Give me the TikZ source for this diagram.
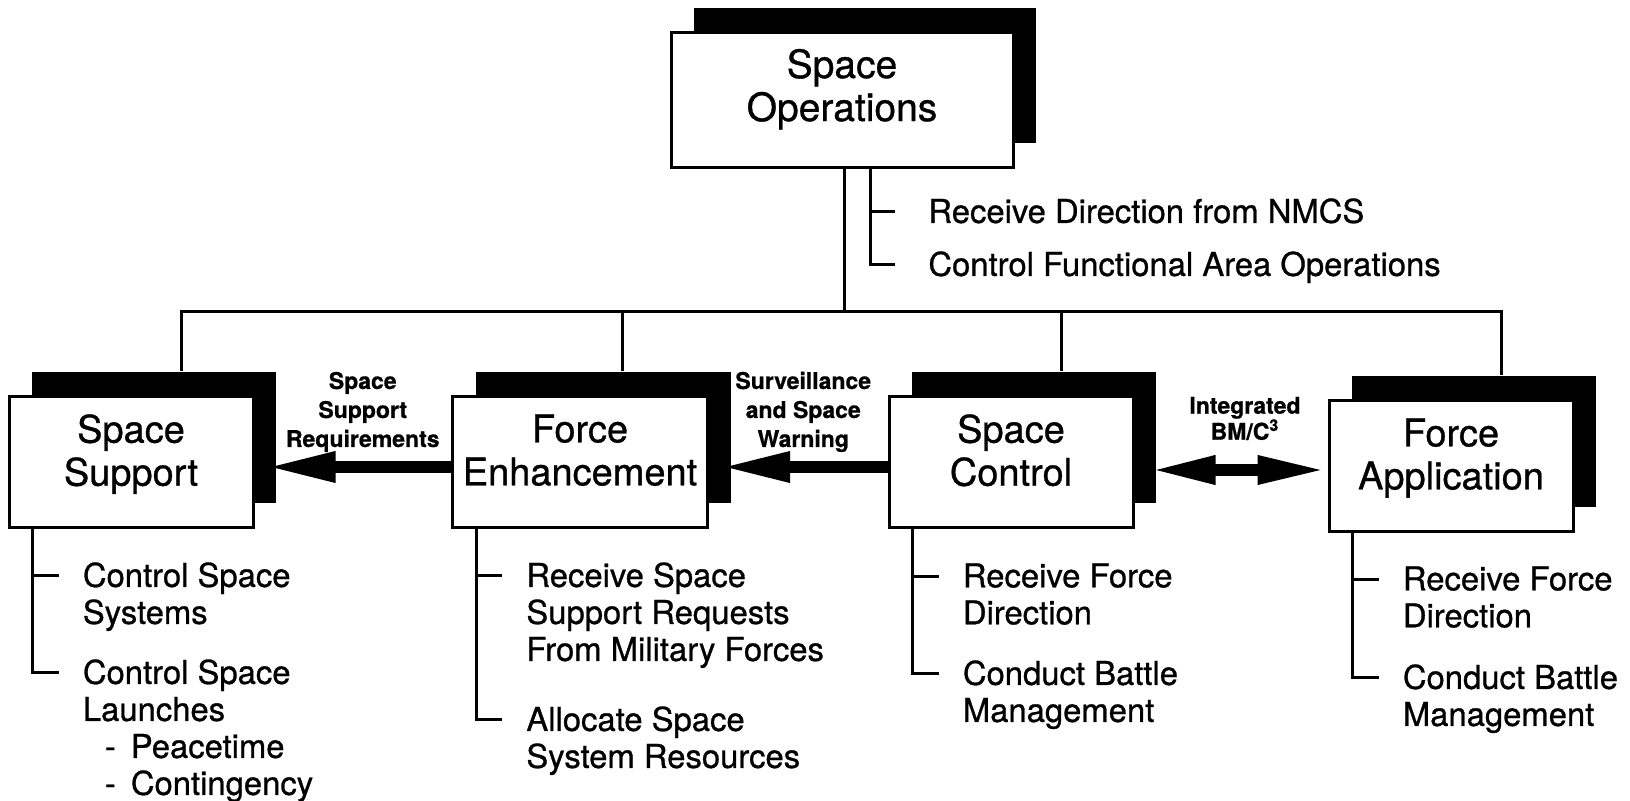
\documentclass[tikz,border=0pt]{standalone}
\usepackage{fontspec}
\setmainfont{TeX Gyre Heros}[FakeBold=0.8]
\usepackage{tikz}
\usetikzlibrary{arrows.meta,positioning,shadows}

\begin{document}
\begin{tikzpicture}[x=0.5pt,y=-0.5pt,node distance=220pt,
  line/.style={line width=1.5pt},
  box/.style={rectangle,draw,line width=1.5pt,fill=white,minimum width=122pt,minimum height=65.5pt,
    align=center,font=\fontsize{19}{21.5}\selectfont,
    execute at end node={\rule[-12pt]{0pt}{12pt}},
    drop shadow={shadow xshift=11.5pt,shadow yshift=12pt,fill=black,opacity=1}},
  top box/.style={box,minimum width=171pt,minimum height=67.5pt,font=\fontsize{19.5}{21.5}\selectfont,
    execute at end node={\rule[-15pt]{0pt}{15pt}}},
  item/.style={anchor=north west,align=left,inner sep=0pt,font=\fontsize{16.4}{18.5}\selectfont},
  flow/.style={line width=6pt,-{Triangle[length=35pt,width=14pt]},shorten >=5.5pt},
  flow label/.style={align=center,inner sep=0pt,font=\fontsize{11.5}{14.5}\selectfont\bfseries}]
  \useasboundingbox (0,0) rectangle (1630,801);

  \node[top box] (so) at (842,100) {Space\\Operations};
  \node[box] (ss) at (131,462) {Space\\Support};
  \node[box,minimum width=127.5pt] (fe) [right of=ss,xshift=4.5pt] {Force\\Enhancement};
  \node[box] (sc) [right of=fe,xshift=-4.5pt] {Space\\Control};
  \node[box] (fa) [right of=sc,yshift=-2pt] {Force\\Application};

  % bus to the four areas
  \coordinate (bus) at (844,312);
  \draw[line] (so.south -| bus) -- (bus);
  \foreach \n/\dx in {ss/25pt,fe/21pt,sc/25pt,fa/25pt}
    \draw[line] ([xshift=\dx,yshift=12pt]\n.north) |- (bus);

  % tasks
  \node[item] (so1) at (928,198) {Receive Direction from NMCS};
  \node[item] (so2) at (928,251) {Control Functional Area Operations};
  \draw[line] ([xshift=14pt]so.south) |- ([xshift=-16.5pt,yshift=-7pt]so2.north west);
  \draw[line] ([xshift=-16.5pt,yshift=-7pt]so1.north west) -- ++(-12.5pt,0);

  \node[item] (ss1) at ([xshift=37.5pt,yshift=-16.5pt]ss.south west) {Control Space\\Systems};
  \node[item] (ss2) at ([xshift=37.5pt,yshift=-65pt]ss.south west)
    {Control Space\\Launches\\\hspace*{11pt}\makebox[13pt][l]{-}Peacetime\\\hspace*{11pt}\makebox[13pt][l]{-}Contingency};
  \node[item] (fe1) at ([xshift=37.5pt,yshift=-16.5pt]fe.south west) {Receive Space\\Support Requests\\From Military Forces};
  \node[item] (fe2) at ([xshift=37.5pt,yshift=-88.5pt]fe.south west) {Allocate Space\\System Resources};
  \node[item] (sc1) at ([xshift=37.5pt,yshift=-17pt]sc.south west) {Receive Force\\Direction};
  \node[item] (sc2) at ([xshift=37.5pt,yshift=-65.5pt]sc.south west) {Conduct Battle\\Management};
  \node[item] (fa1) at ([xshift=37.5pt,yshift=-16.5pt]fa.south west) {Receive Force\\Direction};
  \node[item] (fa2) at ([xshift=37.5pt,yshift=-65.5pt]fa.south west) {Conduct Battle\\Management};

  \foreach \n in {ss,fe,sc,fa}
    \draw[line] ([xshift=12.5pt]\n.south west) |- ([xshift=-12pt,yshift=-7pt]\n2.north west)
      ([xshift=-25pt,yshift=-7pt]\n1.north west) -- ++(13pt,0);

  % flows between areas
  \draw[flow] ([yshift=-2.5pt]fe.west) -- ([yshift=-2.5pt]ss.east)
    node[flow label,midway,above=4.5pt,xshift=5pt] {Space\\Support\\Requirements};
  \draw[flow] ([yshift=-2.5pt]sc.west) -- ([yshift=-2.5pt]fe.east)
    node[flow label,midway,above=4.5pt,xshift=2.5pt] {Surveillance\\and Space\\Warning};
  \draw[flow,{Triangle[length=33pt,width=13pt]}-{Triangle[length=35pt,width=13pt]},shorten >=0pt,shorten <=7.5pt]
    ([yshift=-4pt]sc.east) -- ([yshift=-2pt]fa.west)
    node[flow label,midway,above=12pt,xshift=7pt,font=\fontsize{11.5}{13}\selectfont\bfseries] {Integrated\\BM/C\textsuperscript{3}};
\end{tikzpicture}
\end{document}
